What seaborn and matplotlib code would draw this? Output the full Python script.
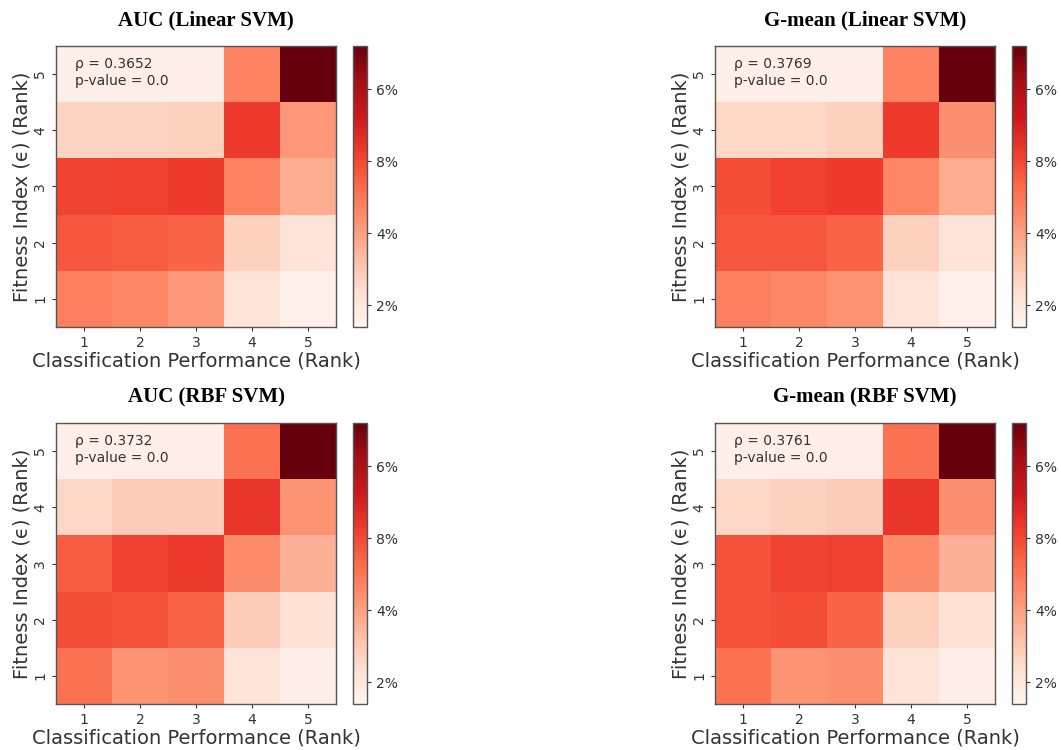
import numpy as np
import pandas as pd
import matplotlib
matplotlib.use("Agg")
import matplotlib.pyplot as plt
import seaborn as sns

# rank labels (rows = fitness index rank, cols = classification performance rank)
ranks = [1, 2, 3, 4, 5]

# share of samples per cell (%), rows listed from rank 1 (bottom) to rank 5 (top)
auc_linear = [
    [4.8, 4.6, 4.2, 2.2, 1.6],
    [5.7, 5.6, 5.4, 2.8, 2.2],
    [6.1, 6.2, 6.3, 4.7, 3.7],
    [2.7, 2.7, 2.8, 6.3, 4.2],
    [1.7, 1.7, 1.7, 4.7, 9.2],
]
gmean_linear = [
    [4.8, 4.6, 4.3, 2.2, 1.6],
    [5.7, 5.7, 5.4, 2.8, 2.2],
    [5.9, 6.2, 6.3, 4.6, 3.7],
    [2.6, 2.6, 2.8, 6.3, 4.4],
    [1.7, 1.7, 1.7, 4.7, 9.2],
]
auc_rbf = [
    [5.1, 4.3, 4.4, 2.2, 1.7],
    [5.9, 5.8, 5.4, 2.9, 2.3],
    [5.6, 6.2, 6.3, 4.5, 3.6],
    [2.6, 2.9, 2.9, 6.4, 4.3],
    [1.7, 1.7, 1.7, 5.1, 9.2],
]
gmean_rbf = [
    [5.1, 4.3, 4.4, 2.2, 1.7],
    [5.8, 5.9, 5.4, 2.8, 2.3],
    [5.8, 6.1, 6.2, 4.5, 3.6],
    [2.6, 2.8, 2.9, 6.4, 4.4],
    [1.7, 1.7, 1.7, 5.1, 9.2],
]

titles = ["AUC (Linear SVM)", "G-mean (Linear SVM)", "AUC (RBF SVM)", "G-mean (RBF SVM)"]
rhos = ["0.3652", "0.3769", "0.3732", "0.3761"]
grids = [auc_linear, gmean_linear, auc_rbf, gmean_rbf]

cbar_ticks = [2, 4, 6, 8]
cbar_labels = ["2%", "4%", "8%", "6%"]

sns.set_style("white")
plt.rcParams["font.family"] = ["DejaVu Sans"]
txt = "#333333"

fig = plt.figure(figsize=(10.61, 7.5), dpi=100)

W, H = 1061, 750
# axes pixel boxes: (left, top, right, bottom), colorbar left
boxes = [(56, 46, 336, 327, 353), (715, 46, 995, 327, 1012),
         (56, 423, 336, 704, 353), (715, 423, 995, 704, 1012)]

for i, (grid, title, rho) in enumerate(zip(grids, titles, rhos)):
    l, t, r, b, cl = boxes[i]
    ax = fig.add_axes([l / W, 1 - b / H, (r - l) / W, (b - t) / H])
    cax = fig.add_axes([cl / W, 1 - b / H, 14 / W, (b - t) / H])

    df = pd.DataFrame(grid, index=ranks, columns=ranks).iloc[::-1]
    sns.heatmap(df, ax=ax, cbar_ax=cax, cmap="Reds", vmin=1.4, vmax=9.2,
                square=False, linewidths=0)

    ax.set_xlabel("Classification Performance (Rank)", fontsize=14, color=txt, labelpad=1)
    ax.set_ylabel("Fitness Index (\u03f5) (Rank)", fontsize=14, color=txt, labelpad=1)
    ax.tick_params(axis="both", labelsize=10, colors=txt, length=3, left=True, bottom=True)
    ax.set_yticklabels(df.index, rotation=90, va="center")
    ax.set_xticklabels(df.columns, rotation=0)
    for sp in ax.spines.values():
        sp.set_visible(True)
        sp.set_color("#555555")
        sp.set_linewidth(1)

    ax.text(0.068, 0.96, f"\u03c1 = {rho}\np-value = 0.0", transform=ax.transAxes,
            fontsize=10, color=txt, va="top", ha="left", linespacing=1.25)

    cb = ax.collections[0].colorbar
    cb.set_ticks(cbar_ticks)
    cb.set_ticklabels(cbar_labels)
    cax.tick_params(labelsize=10, colors=txt, length=3)
    cb.outline.set_visible(True)
    cb.outline.set_edgecolor("#555555")
    cb.outline.set_linewidth(1)

    fig.text((l + r) / 2 / W + 10 / W, 1 - (t - 26) / H, title, ha="center", va="center",
             fontsize=15, fontweight="bold", family="Liberation Serif", color="black")

fig.savefig("out.png", dpi=100)
